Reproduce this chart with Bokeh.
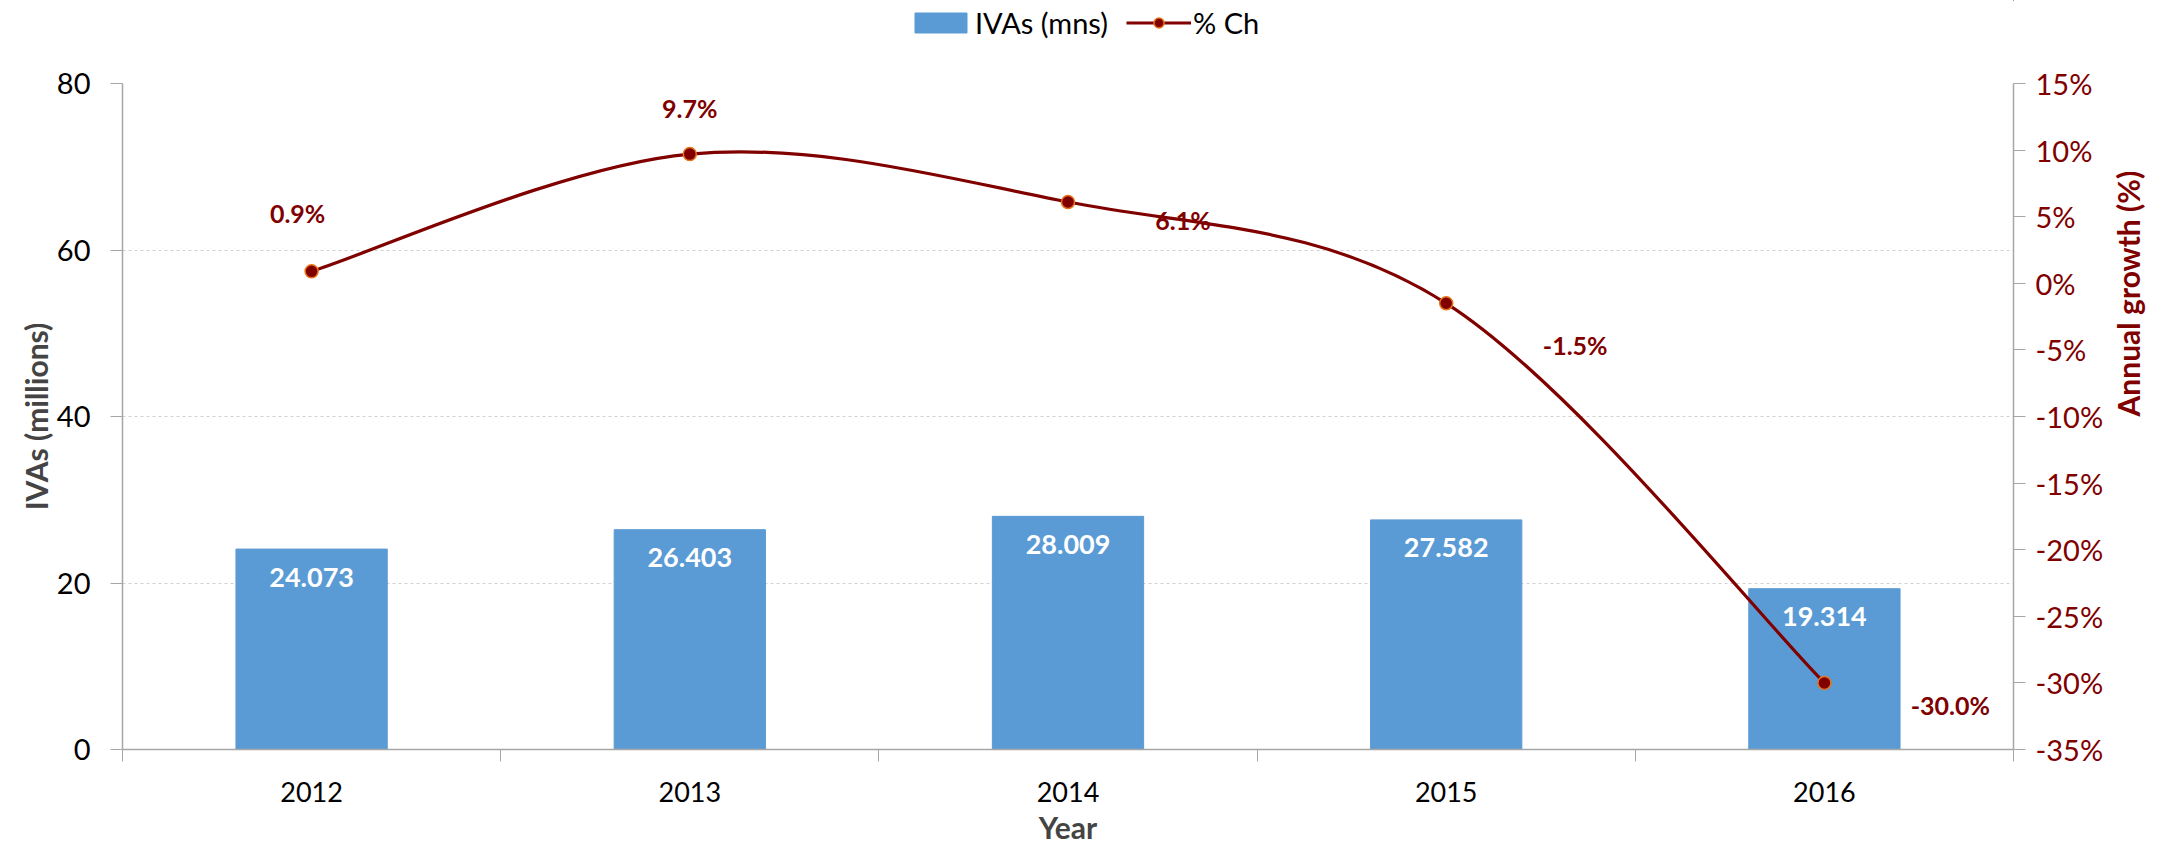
import math
import numpy as np
from bokeh.plotting import figure
from bokeh.layouts import column
from bokeh.models import (Range1d, LinearAxis, FixedTicker,
                          PrintfTickFormatter, Legend, LegendItem, ColumnDataSource)
from bokeh.embed import file_html
from bokeh.resources import INLINE
from bokeh.core.properties import value

# ---- data ----
years = ["2012", "2013", "2014", "2015", "2016"]
ivas = [24.073, 26.403, 28.009, 27.582, 19.314]
pct_ch = [0.9, 9.7, 6.1, -1.5, -30.0]
left_ticks = [0, 20, 40, 60, 80]
right_ticks = [-35, -30, -25, -20, -15, -10, -5, 0, 5, 10, 15]

# ---- style ----
FONT = "Lato"
BAR_C = "#5B9BD5"
LINE_C = "#800000"
MARK_OUT = "#E8731A"
AXIS_C = "#A6A6A6"
pct_dx = [-14, 0, 115, 129, 126]
pct_dy = [-58, -46, 18, 42, 22]

W, H = 2167, 848
LEG_H = 44                       # band holding the legend
B_LEFT, B_RIGHT, B_TOP, B_BOTTOM = 122, 153, 83 - LEG_H, 99

xs = list(range(1, len(years) + 1))

p = figure(width=W, height=H - LEG_H, output_backend="svg", toolbar_location=None,
           x_range=Range1d(0.5, len(years) + 0.5),
           y_range=Range1d(left_ticks[0], left_ticks[-1]),
           min_border_left=B_LEFT, min_border_right=B_RIGHT, min_border_top=B_TOP,
           min_border_bottom=B_BOTTOM)
p.outline_line_color = None
p.background_fill_color = "white"
p.border_fill_color = "white"
p.extra_y_ranges = {"pct": Range1d(right_ticks[0], right_ticks[-1])}

# bars
bar_src = ColumnDataSource(dict(x=xs, top=ivas, lbl=[f"{v:.3f}" for v in ivas]))
p.vbar(x="x", top="top", width=0.4, source=bar_src, fill_color=BAR_C, line_color=BAR_C)
p.text(x="x", y="top", text="lbl", source=bar_src, text_align="center",
       text_baseline="middle", y_offset=28, text_color="white",
       text_font=value(FONT), text_font_style="bold", text_font_size="27px")

# smooth line (Catmull-Rom style bezier through the data points)
def smooth_segments(xv, yv):
    px = np.array(xv, dtype=float)
    py = np.array(yv, dtype=float)
    n = len(px)
    seg = dict(x0=[], y0=[], x1=[], y1=[], cx0=[], cy0=[], cx1=[], cy1=[])
    for i in range(n - 1):
        pm = i - 1 if i > 0 else i
        pp = i + 2 if i + 2 < n else i + 1
        seg["x0"].append(px[i]); seg["y0"].append(py[i])
        seg["x1"].append(px[i + 1]); seg["y1"].append(py[i + 1])
        seg["cx0"].append(px[i] + (px[i + 1] - px[pm]) / 6)
        seg["cy0"].append(py[i] + (py[i + 1] - py[pm]) / 6)
        seg["cx1"].append(px[i + 1] - (px[pp] - px[i]) / 6)
        seg["cy1"].append(py[i + 1] - (py[pp] - py[i]) / 6)
    return seg

p.bezier(**smooth_segments(xs, pct_ch), line_color=LINE_C, line_width=3.2,
         y_range_name="pct")
p.scatter(x=xs, y=pct_ch, size=13, fill_color=LINE_C, line_color=MARK_OUT,
          line_width=1.5, y_range_name="pct")

pct_src = ColumnDataSource(dict(x=xs, y=pct_ch, lbl=[f"{v:.1f}%" for v in pct_ch],
                                dx=pct_dx, dy=pct_dy))
p.text(x="x", y="y", text="lbl", source=pct_src, x_offset="dx", y_offset="dy",
       text_align="center", text_baseline="middle", text_color=LINE_C,
       text_font=value(FONT), text_font_style="bold", text_font_size="25px",
       y_range_name="pct")

# grid
p.xgrid.visible = False
p.ygrid.ticker = FixedTicker(ticks=left_ticks)
p.ygrid.grid_line_color = "#D0D0D0"
p.ygrid.grid_line_dash = "3 3"
p.ygrid.grid_line_width = 1

# x axis
xa = p.xaxis[0]
xa.ticker = FixedTicker(ticks=xs, minor_ticks=[v - 0.5 for v in xs] + [xs[-1] + 0.5])
xa.major_label_overrides = {x: y for x, y in zip(xs, years)}
xa.major_tick_out = 0
xa.major_tick_in = 0
xa.minor_tick_out = 12
xa.minor_tick_in = 0
xa.minor_tick_line_color = AXIS_C
xa.axis_line_color = AXIS_C
xa.axis_line_width = 1.5
xa.major_label_standoff = 20
xa.major_label_text_font = FONT
xa.major_label_text_font_size = "27px"
xa.major_label_text_color = "black"
xa.axis_label = "Year"
xa.axis_label_text_font = FONT
xa.axis_label_text_font_style = "bold"
xa.axis_label_text_font_size = "30px"
xa.axis_label_standoff = 4

# left axis
ya = p.yaxis[0]
ya.ticker = FixedTicker(ticks=left_ticks)
ya.major_tick_out = 12
ya.major_tick_in = 0
ya.minor_tick_out = 0
ya.minor_tick_in = 0
ya.major_tick_line_color = AXIS_C
ya.axis_line_color = AXIS_C
ya.axis_line_width = 1.5
ya.major_label_standoff = 20
ya.major_label_text_font = FONT
ya.major_label_text_font_size = "29px"
ya.major_label_text_color = "black"
ya.axis_label = "IVAs (millions)"
ya.axis_label_text_font = FONT
ya.axis_label_text_font_style = "bold"
ya.axis_label_text_font_size = "30px"
ya.axis_label_standoff = 0

# right axis
ra = LinearAxis(y_range_name="pct", ticker=FixedTicker(ticks=right_ticks),
                formatter=PrintfTickFormatter(format="%d%%"))
ra.major_tick_out = 12
ra.major_tick_in = 0
ra.minor_tick_out = 0
ra.minor_tick_in = 0
ra.major_tick_line_color = AXIS_C
ra.axis_line_color = AXIS_C
ra.axis_line_width = 1.5
ra.major_label_standoff = 10
ra.major_label_text_font = FONT
ra.major_label_text_font_size = "29px"
ra.major_label_text_color = LINE_C
ra.axis_label = "Annual growth (%)"
ra.axis_label_text_font = FONT
ra.axis_label_text_font_style = "bold"
ra.axis_label_text_font_size = "30px"
ra.axis_label_text_color = LINE_C
ra.axis_label_standoff = 22
try:
    ra.axis_label_orientation = math.pi / 2   # read bottom-to-top, like the reference
except Exception:
    pass
p.add_layout(ra, "right")

# legend band above the chart (proxy glyphs sit outside this band's ranges);
# the column aligns this band's frame with the chart's frame
lf = figure(width=W, height=LEG_H, output_backend="svg", toolbar_location=None,
            x_range=Range1d(-2, -1), y_range=Range1d(-2, -1),
            x_axis_type=None, y_axis_type=None, min_border=0)
lf.outline_line_color = None
lf.background_fill_color = "white"
lf.border_fill_color = "white"
lf.xgrid.visible = False
lf.ygrid.visible = False
lb = lf.vbar(x=xs, top=ivas, width=0.4, fill_color=BAR_C, line_color=BAR_C)
ll = lf.line(x=xs, y=pct_ch, line_color=LINE_C, line_width=3.2)
lp = lf.scatter(x=xs, y=pct_ch, size=13, fill_color=LINE_C, line_color=MARK_OUT,
                line_width=1.5)
legend = Legend(items=[LegendItem(label="IVAs (mns)", renderers=[lb]),
                       LegendItem(label="% Ch", renderers=[ll, lp])],
                orientation="horizontal", location=(786, 4),
                padding=0, margin=0, spacing=18, label_standoff=2,
                glyph_width=65, glyph_height=25, label_height=19,
                border_line_alpha=0, background_fill_alpha=0,
                label_text_font=FONT, label_text_font_size="29px",
                label_text_color="black")
lf.add_layout(legend, "center")

layout = column(lf, p, spacing=0)
open("out.html", "w").write(file_html(layout, INLINE))
